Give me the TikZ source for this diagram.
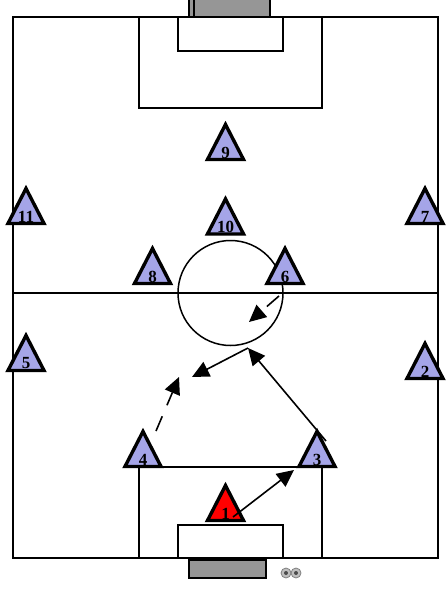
\documentclass[tikz,border=0pt]{standalone}
\usepackage{fontspec}
\setmainfont{Liberation Serif}
\usetikzlibrary{shapes.geometric,arrows.meta}
\definecolor{playerblue}{HTML}{A5A5E8}
\definecolor{goalgray}{HTML}{969696}
\tikzset{
    player/.style={isosceles triangle, isosceles triangle apex angle=53, isosceles triangle stretches, shape border rotate=90, draw=black, line width=3.4pt, fill=playerblue, minimum height=35pt, minimum width=36pt, inner sep=0pt},
    keeper/.style={player, fill=red},
    num/.style={font=\bfseries\fontsize{17pt}{17pt}\selectfont, inner sep=0pt, yshift=-4pt},
    pitch/.style={black, line width=1.5pt},
    goal/.style={draw=black, line width=1.5pt, fill=goalgray},
    pass/.style={black, line width=1.6pt, -{Triangle[length=17pt, width=16pt]}},
    run/.style={pass, dash pattern=on 16pt off 12pt},
    ball/.style={circle, draw=gray, fill=lightgray, line width=0.8pt, minimum size=10pt, inner sep=0pt}
}
\begin{document}
\begin{tikzpicture}[x=1pt, y=-1pt]
            \useasboundingbox (0,0) rectangle (445,596);

            % pitch
            \draw[pitch] (13,17) rectangle (438,558);
            \draw[pitch] (13,293) -- (438,293);
            \draw[pitch] (230.5,293) circle (52.5);
            \draw[pitch] (139,17) rectangle (322,108);
            \draw[pitch] (178,17) rectangle (283,51);
            \draw[pitch] (139,467) rectangle (322,558);
            \draw[pitch] (178,525) rectangle (283,558);

            % goals
            \draw[goal] (189,-2) rectangle (270,17);
            \draw[goal] (194,-2) rectangle (270,17);
            \draw[goal] (189,560) rectangle (266,578);

            \node[ball] (ballA) at (286,573) {};
            \node[ball] (ballB) at (296,573) {};
            \fill[black!70] (ballA) circle (2);
            \fill[black!70] (ballB) circle (2);

            % players
            \node[keeper, label={[num]center:1}] (p1) at (225.5,509.5) {};
            \node[player, label={[num]center:2}] (p2) at (425,367.5) {};
            \node[player, label={[num]center:3}] (p3) at (317,455.5) {};
            \node[player, label={[num]center:4}] (p4) at (143,455.5) {};
            \node[player, label={[num]center:5}] (p5) at (26,359.5) {};
            \node[player, label={[num]center:6}] (p6) at (285,272.5) {};
            \node[player, label={[num]center:7}] (p7) at (425,212.5) {};
            \node[player, label={[num]center:8}] (p8) at (152.5,272.5) {};
            \node[player, label={[num]center:9}] (p9) at (225.5,148.5) {};
            \node[player, label={[num]center:10}] (p10) at (225.5,223) {};
            \node[player, label={[num]center:11}] (p11) at (26,212.5) {};

            % passes and runs
            \coordinate (startA) at (233,517);
            \coordinate (endA) at (294,470);
            \coordinate (startB) at (326,441);
            \coordinate (turn) at (248,348);
            \coordinate (endC) at (192,377);
            \coordinate (startD) at (156,431);
            \coordinate (endD) at (179,377);
            \coordinate (startE) at (279,296);
            \coordinate (endE) at (249,322);

            \draw[pass] (startA) -- (endA);
            \draw[pass] (startB) -- (turn);
            \draw[pass] (turn) -- (endC);
            \draw[run] (startD) -- (endD);
            \draw[run] (startE) -- (endE);

        \end{tikzpicture}
\end{document}
